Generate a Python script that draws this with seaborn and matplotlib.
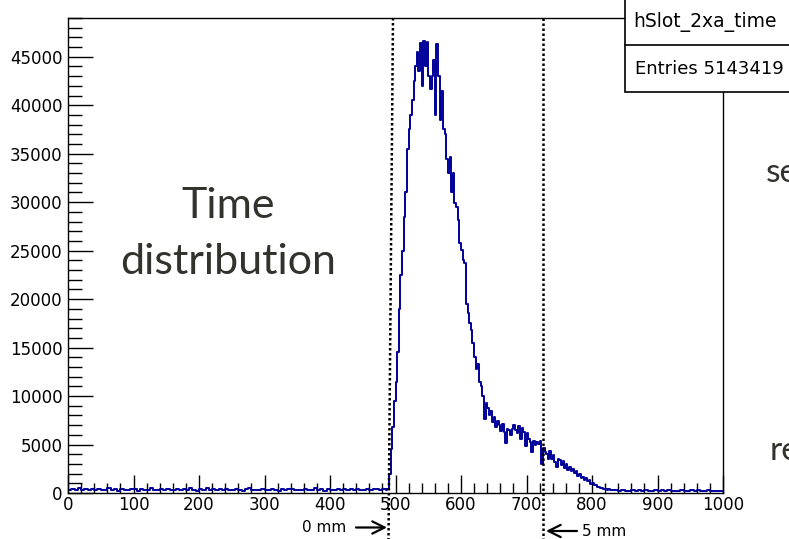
import numpy as np
import pandas as pd
import seaborn as sns
import matplotlib.pyplot as plt
from matplotlib.lines import Line2D
from matplotlib.patches import Rectangle
from matplotlib.ticker import MultipleLocator

# ---------------- data (counts per bin) ----------------
# flat floor 0..485, bins of 5
floor_counts = [
    350, 420, 300, 480, 260, 380, 310, 450, 280, 400,
    330, 260, 470, 300, 390, 240, 430, 350, 290, 410,
    370, 250, 440, 320, 280, 500, 360, 270, 420, 310,
    390, 280, 340, 450, 260, 380, 300, 470, 320, 250,
    430, 350, 540, 290, 380, 260, 410, 330, 460, 300,
    270, 420, 360, 250, 390, 480, 310, 350, 280, 440,
    330, 270, 400, 360, 240, 420, 300, 380, 450, 290,
    360, 280, 410, 330, 260, 470, 300, 390, 250, 420,
    340, 300, 430, 270, 380, 320, 460, 290, 400, 350,
    310, 420, 280, 390, 450, 330, 380,
]
# peak 485..835, bins of 2.5
peak_counts = [
    300, 400, 2000, 4500, 6800, 9500, 11500, 14500, 19000, 22500,
    25000, 28500, 31000, 35500, 37500, 39000, 40500, 42500, 44000, 45500,
    43500, 46400, 42000, 46600, 44000, 46500, 43000, 41700, 43000, 44700,
    39000, 46300, 43000, 38500, 41500, 37500, 37000, 34500, 33000, 34700,
    31000, 33000, 29900, 29500, 28200, 25800, 25100, 24000, 23700, 19500,
    18600, 17500, 16800, 15500, 14000, 12800, 13300, 11500, 11000, 10000,
    7600, 9300, 8800, 8000, 8500, 7300, 7800, 6800, 7400, 7000,
    6400, 7100, 6300, 5200, 6600, 6500, 6000, 6600, 7000, 6500,
    6200, 6900, 5600, 6700, 6300, 4900, 6200, 5600, 5300, 4200,
    5400, 5000, 5300, 5100, 5400, 3000, 4600, 4200, 4000, 3500,
    4300, 3500, 3900, 3200, 2700, 3500, 3400, 2900, 3300, 2600,
    3000, 2400, 2700, 2300, 2500, 2100, 2300, 1800, 2000, 1500,
    1700, 1300, 1500, 1200, 1300, 900, 1000, 800, 850, 600,
    650, 500, 550, 400, 450, 350, 400, 300, 350, 300,
]
# tail 835..1000, bins of 5
tail_counts = [
    280, 200, 320, 250, 180, 300, 220, 270, 190, 310,
    240, 200, 280, 170, 260, 230, 300, 190, 250, 210,
    280, 180, 240, 300, 200, 260, 170, 230, 280, 210,
    190, 250, 220,
]

hist_title = "hSlot_2xa_time"
entries_label = "Entries 5143419"

# ---------------- build table ----------------
edges = np.concatenate([np.arange(0, 485, 5.0),
                        np.arange(485, 835, 2.5),
                        np.arange(835, 1000.1, 5.0)])
counts = np.array(floor_counts + peak_counts + tail_counts, dtype=float)
centers = 0.5 * (edges[:-1] + edges[1:])
df = pd.DataFrame({"time": centers, "count": counts})

# ---------------- figure ----------------
sns.set_theme(style="white")
plt.rcParams["font.family"] = ["DejaVu Sans"]

W, H = 789, 539
fig = plt.figure(figsize=(W / 100, H / 100), dpi=100)
fig.patch.set_facecolor("white")


def fx(px):
    return px / W


def fy(py):
    return 1 - py / H


ax = fig.add_axes([fx(68), fy(493), (723 - 68) / W, (493 - 18) / H])
sns.histplot(data=df, x="time", weights="count", bins=[float(e) for e in edges],
             element="step", fill=False, color="#00009a", linewidth=1.4, ax=ax)
ax.set_xlim(0, 1000)
ax.set_ylim(0, 49000)
ax.set_xlabel("")
ax.set_ylabel("")

ax.xaxis.set_major_locator(MultipleLocator(100))
ax.xaxis.set_minor_locator(MultipleLocator(20))
ax.yaxis.set_major_locator(MultipleLocator(5000))
ax.yaxis.set_minor_locator(MultipleLocator(1000))
ax.tick_params(which="both", direction="in", colors="black", width=1,
               bottom=True, left=True, top=False, right=False, labelsize=12)
ax.tick_params(axis="x", which="major", length=13, pad=2)
ax.tick_params(axis="x", which="minor", length=7)
ax.tick_params(axis="y", which="major", length=18, pad=4)
ax.tick_params(axis="y", which="minor", length=10)
for s in ax.spines.values():
    s.set_color("black")
    s.set_linewidth(1.0)

# dotted marker lines (extend beyond the axes)
fig.add_artist(Line2D([fx(393), fx(388.5)], [fy(18), fy(539)], color="black",
                      lw=1.8, linestyle=(0, (1, 1)), transform=fig.transFigure))
fig.add_artist(Line2D([fx(543), fx(543)], [fy(18), fy(539)], color="black",
                      lw=1.8, linestyle=(0, (1, 1)), transform=fig.transFigure))

# arrows and labels under the axis
ax.annotate("", xy=(fx(387), fy(527.5)), xytext=(fx(356), fy(527.5)),
            xycoords="figure fraction", textcoords="figure fraction",
            arrowprops=dict(arrowstyle="->", lw=1.6, color="black",
                            mutation_scale=22, shrinkA=0, shrinkB=0))
ax.annotate("", xy=(fx(546), fy(531)), xytext=(fx(577), fy(531)),
            xycoords="figure fraction", textcoords="figure fraction",
            arrowprops=dict(arrowstyle="->", lw=1.6, color="black",
                            mutation_scale=22, shrinkA=0, shrinkB=0))
fig.text(fx(324), fy(527), "0 mm", ha="center", va="center", fontsize=11, color="black")
fig.text(fx(604), fy(531), "5 mm", ha="center", va="center", fontsize=11, color="black")

# stats box
fig.add_artist(Rectangle((fx(625), fy(92)), 0.4, 0.4, transform=fig.transFigure,
                         facecolor="white", edgecolor="black", lw=1.2, zorder=5))
fig.add_artist(Line2D([fx(625), 1.0], [fy(45), fy(45)], color="black", lw=1.2,
                      transform=fig.transFigure, zorder=6))
fig.text(fx(633), fy(22), hist_title, ha="left", va="center", fontsize=13.5,
         color="black", zorder=7)
fig.text(fx(635), fy(69), entries_label, ha="left", va="center", fontsize=13,
         color="black", zorder=7)

# overlay slide text (partly outside the slide crop, as in the reference)
txt_color = "#33332e"
fig.text(fx(228), fy(218), "Time", ha="center", va="baseline", fontsize=31,
         family=["Lato", "DejaVu Sans"], color=txt_color)
fig.text(fx(228), fy(274), "distribution", ha="center", va="baseline", fontsize=31,
         family=["Lato", "DejaVu Sans"], color=txt_color)
fig.text(fx(766), fy(182), "se", ha="left", va="baseline", fontsize=24,
         family=["Lato", "DejaVu Sans"], color=txt_color)
fig.text(fx(770), fy(460), "re", ha="left", va="baseline", fontsize=24,
         family=["Lato", "DejaVu Sans"], color=txt_color)

fig.savefig("out.png", dpi=100)
